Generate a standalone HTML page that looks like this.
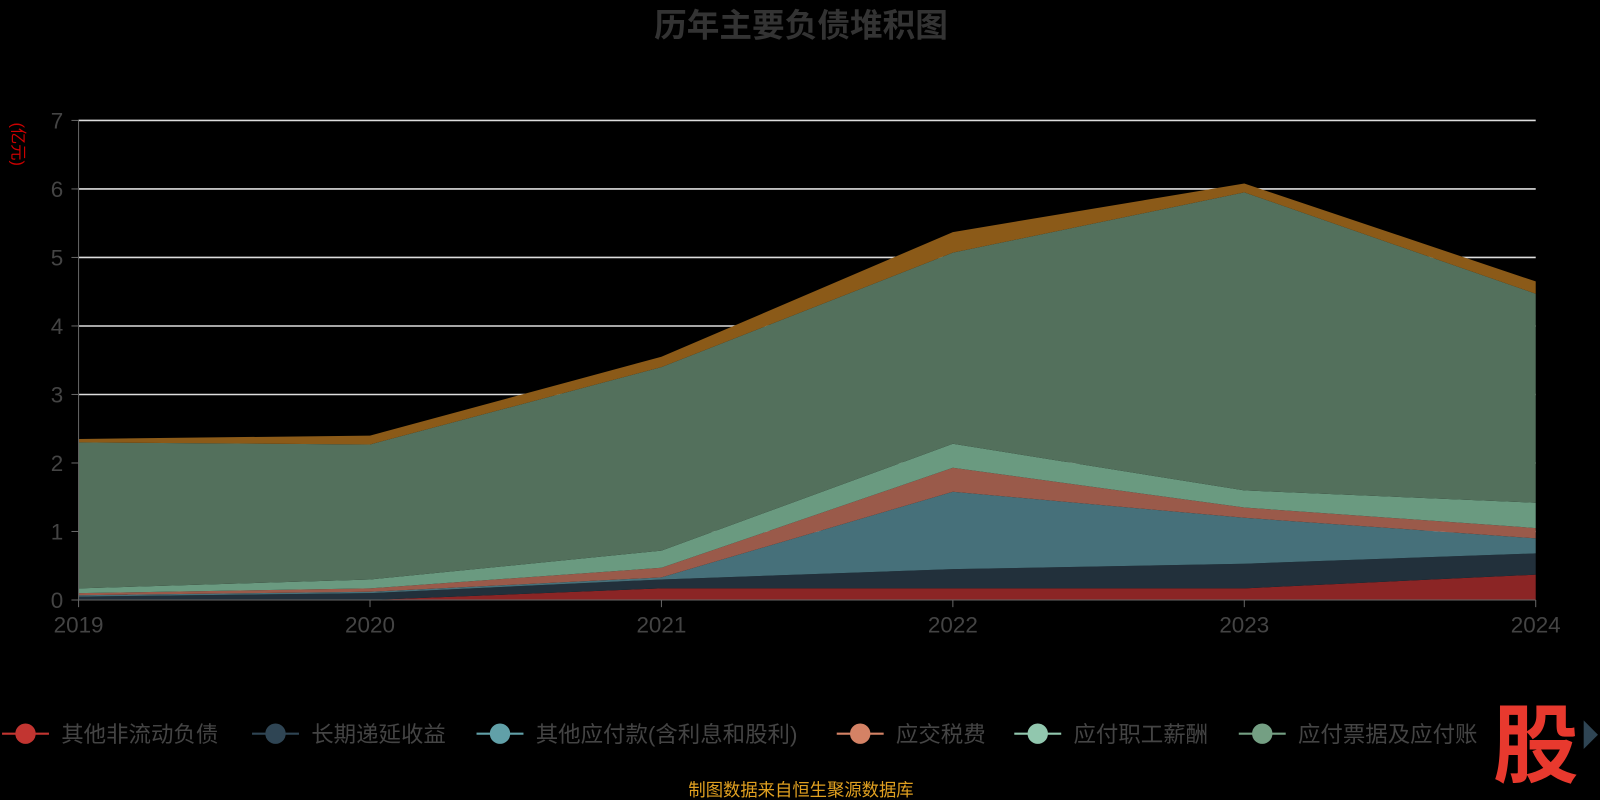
<!DOCTYPE html>
<html><head><meta charset="utf-8"><style>
body{margin:0;background:#000;width:1600px;height:800px;overflow:hidden;font-family:"Liberation Sans","Noto Sans CJK SC",sans-serif}
</style></head><body>
<svg id="s" width="1600" height="800" viewBox="0 0 1568 784" xmlns="http://www.w3.org/2000/svg" style="font-family:'Liberation Sans','Noto Sans CJK SC',sans-serif;display:block">
<text x="785" y="36" text-anchor="middle" font-size="32" font-weight="bold" fill="#333">历年主要负债堆积图</text>
<text x="12" y="120" font-size="16" fill="#c00" transform="rotate(90 12 120)">(亿元)</text>
<g id="grid"></g><g id="areas"></g><g id="axis"></g>
<g font-size="22" fill="#444">
<line x1="2" y1="719" x2="48" y2="719" stroke="#c23531" stroke-width="2"/><circle cx="25" cy="719" r="10" fill="#c23531"/><text x="60" y="727">其他非流动负债</text>
<line x1="247" y1="719" x2="293" y2="719" stroke="#2f4554" stroke-width="2"/><circle cx="270" cy="719" r="10" fill="#2f4554"/><text x="305" y="727">长期递延收益</text>
<line x1="467" y1="719" x2="513" y2="719" stroke="#61a0a8" stroke-width="2"/><circle cx="490" cy="719" r="10" fill="#61a0a8"/><text x="525" y="727">其他应付款(含利息和股利)</text>
<line x1="820" y1="719" x2="866" y2="719" stroke="#d48265" stroke-width="2"/><circle cx="843" cy="719" r="10" fill="#d48265"/><text x="878" y="727">应交税费</text>
<line x1="994" y1="719" x2="1040" y2="719" stroke="#91c7ae" stroke-width="2"/><circle cx="1017" cy="719" r="10" fill="#91c7ae"/><text x="1052" y="727">应付职工薪酬</text>
<line x1="1214" y1="719" x2="1260" y2="719" stroke="#749f83" stroke-width="2"/><circle cx="1237" cy="719" r="10" fill="#749f83"/><text x="1272" y="727">应付票据及应付账</text>
</g>
<rect x="1460" y="680" width="88" height="90" fill="#000"/>
<text x="1505" y="760" text-anchor="middle" font-size="84" font-weight="bold" fill="#e8392e">股</text>
<polygon points="1552,706 1566,720 1552,734" fill="#2f4554"/>
<text x="785" y="780" text-anchor="middle" font-size="17" fill="#e0a020">制图数据来自恒生聚源数据库</text>
</svg>
<script>
var s='http://www.w3.org/2000/svg';
function el(p,t,a){var e=document.createElementNS(s,t);for(var k in a)e.setAttribute(k,a[k]);p.appendChild(e);return e;}
var X=i=>77+i*285.6, Y=v=>588-v*67.14;
var g=document.getElementById('grid'),ax=document.getElementById('axis'),ar=document.getElementById('areas');
for(var i=1;i<=7;i++)el(g,'line',{x1:77,x2:1505,y1:Y(i),y2:Y(i),stroke:'#ddd','stroke-width':1.5});
var L=[[0,0,0.17,0.17,0.17,0.37],[0.05,0.1,0.3,0.45,0.53,0.68],[0.07,0.12,0.33,1.58,1.2,0.9],[0.1,0.17,0.47,1.93,1.35,1.05],[0.17,0.3,0.72,2.28,1.6,1.42],[2.3,2.27,3.4,5.07,5.95,4.47],[2.35,2.4,3.55,5.37,6.08,4.65]];
var C=['#8b2525','#22303b','#46707a','#9a5a4a','#6a9a80','#53705c','#8b5a18'];
for(var j=0;j<L.length;j++){var pts=[];for(var i=0;i<6;i++)pts.push(X(i)+','+Y(L[j][i]));for(var i=5;i>=0;i--)pts.push(X(i)+','+Y(j?L[j-1][i]:0));el(ar,'polygon',{points:pts.join(' '),fill:C[j]});}
el(ax,'line',{x1:77,x2:77,y1:118,y2:588,stroke:'#666'});el(ax,'line',{x1:77,x2:1505,y1:588,y2:588,stroke:'#666'});
for(var i=0;i<=7;i++){el(ax,'line',{x1:70,x2:77,y1:Y(i),y2:Y(i),stroke:'#666'});var t=el(ax,'text',{x:62,y:Y(i)+8,'text-anchor':'end','font-size':22,fill:'#444'});t.textContent=i;}
for(var i=0;i<6;i++){el(ax,'line',{x1:X(i),x2:X(i),y1:588,y2:595,stroke:'#666'});var t=el(ax,'text',{x:X(i),y:620,'text-anchor':'middle','font-size':22,fill:'#444'});t.textContent=2019+i;}
</script>
</body></html>
